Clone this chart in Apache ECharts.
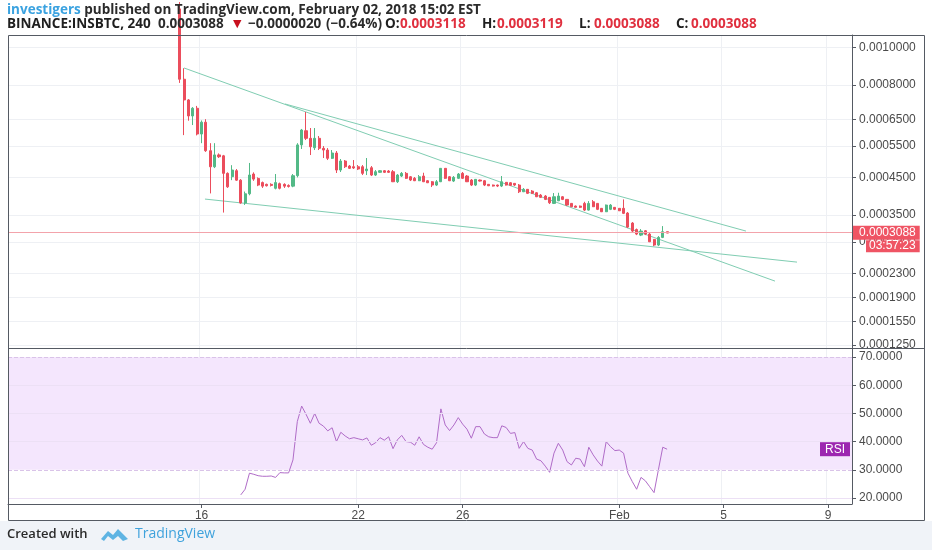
<!DOCTYPE html>
<html><head><meta charset="utf-8">
<script src="https://cdn.jsdelivr.net/npm/echarts@6/dist/echarts.min.js"></script>
<style>html,body{margin:0;padding:0;background:#fff}#c{width:932px;height:550px}</style>
</head><body><div id="c"></div>
<script>
// ---------- data ----------
const axisStart = '2018-01-08 16:00';   // first 4h slot of the time axis
const slotCount = 194;                   // number of 4h slots across the pane
const xTickDates = ['2018-01-16 00:00','2018-01-22 00:00','2018-01-26 00:00','2018-02-01 00:00','2018-02-05 00:00','2018-02-09 00:00'];
const xTickLabels = ['16','22','26','Feb','5','9'];
const priceTicks = [0.001,0.0008,0.00065,0.00055,0.00045,0.00035,0.00029,0.00023,0.00019,0.000155,0.000125];
const priceMin = 0.0001216, priceMax = 0.0010746;
const rsiTicks = [20,30,40,50,60,70];
const rsiMin = 17.87, rsiMax = 73.19;
const rsiBand = [30, 70];

const firstCandle = '2018-01-15 04:00';
// [open, close, low, high]
const candles = [
[0.00125,0.000828,0.00081,0.0013],[0.000828,0.000731,0.000589,0.000884],[0.000731,0.000663,0.000644,0.000735],
[0.000663,0.000695,0.000627,0.0007],[0.000695,0.000593,0.000588,0.000705],[0.000593,0.000638,0.00056,0.000645],
[0.000638,0.000534,0.00053,0.00065],[0.000534,0.000482,0.000405,0.00056],[0.000482,0.00052,0.000478,0.00056],
[0.00052,0.000514,0.00051,0.000525],[0.000517,0.000462,0.000356,0.00052],[0.000462,0.000423,0.00042,0.000465],
[0.000452,0.000472,0.000442,0.000487],[0.00047,0.000442,0.00044,0.000475],[0.000442,0.00038,0.000378,0.000445],
[0.00038,0.000404,0.000375,0.00041],[0.000404,0.000457,0.0004,0.000494],[0.00046,0.000445,0.00044,0.000465],
[0.000447,0.000428,0.000425,0.00045],[0.000435,0.000425,0.00042,0.000438],[0.00043,0.000426,0.000424,0.000432],
[0.00043,0.000427,0.000424,0.000433],[0.000419,0.000435,0.000416,0.00046],[0.000432,0.000419,0.000416,0.000435],
[0.00043,0.000425,0.00042,0.000433],[0.000427,0.000424,0.000421,0.00043],[0.000425,0.000455,0.000422,0.00046],
[0.000455,0.000554,0.00045,0.00056],[0.000554,0.000608,0.00054,0.000612],
[0.0006053,0.0005773,0.0005711,0.0006792],[0.0005773,0.0005475,0.0005196,0.0006155],[0.0005441,0.0005773,0.0005363,0.0006155],
[0.0005773,0.0005421,0.0005363,0.0005856],[0.0005421,0.0005363,0.0005098,0.00055],[0.0005363,0.0005088,0.0005033,0.000543],
[0.0005088,0.0005263,0.0005066,0.0005363],[0.0005263,0.000472,0.000463,0.000533],[0.000472,0.0005001,0.000466,0.0005066],
[0.0005001,0.0004822,0.0004782,0.0005033],[0.0004843,0.0004772,0.0004751,0.0004874],[0.0004822,0.0004782,0.0004751,0.0005033],
[0.0004822,0.0004751,0.000472,0.0004874],[0.0004822,0.000462,0.0004569,0.0004874],[0.0004699,0.0004751,0.0004569,0.0005098],
[0.0004791,0.0004569,0.000454,0.0004843],[0.0004569,0.0004669,0.000454,0.000472],[0.0004651,0.0004699,0.000463,0.000472],
[0.0004699,0.0004651,0.000463,0.000472],[0.000469,0.0004651,0.000463,0.000472],[0.0004669,0.0004374,0.0004365,0.000472],
[0.0004374,0.0004569,0.0004337,0.0004599],[0.000454,0.000462,0.0004511,0.000466],[0.000462,0.0004473,0.0004452,0.000466],
[0.0004519,0.0004423,0.0004394,0.000454],[0.0004473,0.0004403,0.0004394,0.0004511],[0.0004403,0.0004519,0.0004394,0.0004569],
[0.000454,0.0004374,0.0004365,0.0004638],[0.0004403,0.0004345,0.0004337,0.0004423],[0.0004374,0.000428,0.0004224,0.0004394],
[0.000428,0.0004374,0.0004252,0.0004423],[0.0004374,0.0004772,0.0004365,0.0004782],[0.0004772,0.0004473,0.0004452,0.0004782],
[0.0004519,0.0004403,0.0004394,0.000454],[0.0004394,0.0004502,0.0004365,0.000454],[0.0004473,0.0004599,0.0004452,0.000463],
[0.000462,0.0004473,0.0004452,0.000466],[0.000454,0.0004374,0.0004365,0.0004569],[0.0004423,0.000428,0.0004252,0.0004452],
[0.000428,0.0004443,0.0004252,0.0004452],[0.0004423,0.0004394,0.000438,0.0004437],[0.0004403,0.000428,0.0004252,0.0004423],
[0.00043,0.000426,0.0004252,0.0004309],[0.000428,0.0004252,0.0004238,0.0004294],[0.000428,0.0004252,0.0004224,0.0004294],
[0.0004252,0.0004374,0.0004224,0.000454],[0.0004357,0.000428,0.0004266,0.0004365],[0.0004345,0.0004272,0.0004252,0.0004365],
[0.0004328,0.000428,0.0004252,0.0004337],[0.000428,0.0004095,0.000406,0.0004309],[0.0004095,0.0004161,0.0004087,0.0004197],
[0.0004161,0.0004052,0.0004033,0.0004169],[0.0004114,0.0004052,0.0004033,0.0004141],[0.0004068,0.0003961,0.0003953,0.0004087],
[0.0004006,0.0003945,0.0003927,0.0004033],[0.000398,0.0003892,0.0003874,0.0004006],[0.0003945,0.0003805,0.0003772,0.0003953],
[0.0003789,0.0003961,0.0003772,0.000406],[0.0003856,0.000398,0.0003848,0.0004068],[0.0003961,0.0003892,0.0003874,0.000398],
[0.0003892,0.0003746,0.0003721,0.00039],[0.0003789,0.0003704,0.0003696,0.0003797],[0.0003721,0.0003689,0.0003684,0.0003734],
[0.0003721,0.0003689,0.0003671,0.0003734],[0.0003789,0.0003621,0.0003597,0.000383],[0.0003621,0.0003789,0.0003609,0.0003848],
[0.000383,0.0003704,0.0003696,0.0003874],[0.0003789,0.0003639,0.0003621,0.0003797],[0.0003664,0.000358,0.0003573,0.0003671],
[0.000358,0.0003746,0.0003573,0.0003759],[0.0003639,0.0003746,0.0003621,0.0003772],[0.0003689,0.0003639,0.0003621,0.0003696],
[0.0003664,0.0003604,0.0003597,0.0003671],[0.0003664,0.0003541,0.0003524,0.0003892],[0.0003548,0.0003221,0.0003199,0.0003573],
[0.0003312,0.0003132,0.000311,0.0003335],[0.0003165,0.0003066,0.0003044,0.0003188],[0.0003044,0.0003132,0.0003023,0.0003176],
[0.0003139,0.0003066,0.0003044,0.0003154],[0.0003066,0.0002903,0.0002897,0.0003088],[0.0002953,0.0002835,0.0002814,0.0002959],
[0.0002835,0.0002995,0.0002814,0.0003023],[0.0002995,0.0003118,0.000298,0.0003243],[0.0003118,0.0003088,0.0003088,0.0003119]
];

const firstRsi = '2018-01-17 12:00';
const rsi = [21.1,23.1,28.8,28.4,27.9,27.7,27.7,27.8,27.3,29.0,28.9,28.9,33.5,47.1,52.6,49.7,46.5,50.0,46.5,45.5,
43.8,44.9,40.0,43.3,42.0,41.0,41.4,41.0,40.6,41.3,38.7,39.6,41.4,40.5,41.7,37.5,40.6,42.2,40.0,39.8,
38.7,41.7,39.0,38.0,37.3,39.6,51.6,45.9,43.9,45.9,48.5,46.2,44.4,41.2,45.3,45.3,42.7,41.7,41.4,41.4,
45.6,45.0,42.9,43.2,37.6,40.0,37.6,37.0,33.8,33.2,31.3,29.1,35.9,39.4,37.0,32.9,31.7,34.1,33.8,31.1,
38.0,35.3,33.1,31.3,40.0,38.2,36.8,37.0,35.9,28.8,25.8,23.1,27.3,26.1,24.0,21.9,30.0,38.0,37.3];

const lastPrice = 0.0003088;
const countdown = '03:57:23';
// trend lines: [time, price] endpoints
const trendUpper = [['2018-01-19 04:41', 0.0007134], ['2018-02-05 20:31', 0.0003132]];
const trendMid   = [['2018-01-15 07:50', 0.0008854], ['2018-02-06 23:12', 0.0002165]];
const trendLow   = [['2018-01-16 03:07', 0.000390], ['2018-02-07 19:26', 0.0002502]];

// ---------- helpers ----------
const LOG_OFFSET = 0.0001;              // TradingView-style log scale offset
const T = p => Math.log(p + LOG_OFFSET);
const invT = v => Math.exp(v) - LOG_OFFSET;
const HOUR = 3600e3, SLOT = 4 * HOUR;
const pad = n => (n < 10 ? '0' : '') + n;
function parseT(s){ const [a,b]=s.split(' '); const [y,m,d]=a.split('-').map(Number); const [h,mi]=b.split(':').map(Number); return Date.UTC(y,m-1,d,h,mi); }
function fmtT(t){ const d=new Date(t); return d.getUTCFullYear()+'-'+pad(d.getUTCMonth()+1)+'-'+pad(d.getUTCDate())+' '+pad(d.getUTCHours())+':'+pad(d.getUTCMinutes()); }
const t0 = parseT(axisStart);
const slotOf = s => (parseT(s) - t0) / SLOT;
const categories = [];
for (let i = 0; i < slotCount; i++) categories.push(fmtT(t0 + i * SLOT));
const isTick = (idx, val) => xTickDates.indexOf(val) >= 0;

const c0 = slotOf(firstCandle);
const candleData = candles.map((d, i) => [c0 + i, T(d[0]), T(d[1]), T(d[2]), T(d[3])]);
const r0 = slotOf(firstRsi);
const rsiData = rsi.map((v, i) => [r0 + i, v]);
const trend = pts => pts.map(p => [slotOf(p[0]), T(p[1])]);

const UP = '#53b987', DOWN = '#eb4d5c';
const AX = '#555a63', LBL = '#4a4a4a', GRID = '#eef0f4';
const FONT = 'Liberation Sans, Arial, sans-serif';
const HF = 13.5;
const hs = (extra) => Object.assign({fontSize: HF, fontFamily: 'Open Sans', lineHeight: 14, color: '#2b2b2b'}, extra);

const chart = echarts.init(document.getElementById('c'), null, {renderer: 'canvas'});
chart.setOption({
  animation: false,
  backgroundColor: '#ffffff',
  title: {
    left: 7, top: 3, padding: 0,
    text: '{u|investigers}{n| published on TradingView.com, February 02, 2018 15:02 EST}\n' +
          '{sym|BINANCE:INSBTC, 240}{px|0.0003088}{r|▼}{ch|\u22120.0000020}{pc|(\u22120.64%)}' +
          '{k|O:}{v|0.0003118}{k|H:}{v|0.0003119}{k|L:}{v|0.0003088}{k|C:}{v2|0.0003088}',
    textStyle: {
      fontSize: HF, fontFamily: 'Open Sans', lineHeight: 14,
      rich: {
        u: hs({color: '#3aa2e0'}),
        n: hs({}),
        sym: hs({color: '#1f1f1f', fontWeight: 'bold', width: 151}),
        px: hs({width: 75}),
        r: hs({color: '#c8101e', fontSize: 11, fontFamily: 'DejaVu Sans', width: 15}),
        ch: hs({width: 78}),
        pc: hs({width: 59}),
        k: hs({color: '#1f1f1f', fontWeight: 'bold', width: 15}),
        v: hs({color: '#e0303f', width: 82}),
        v2: hs({color: '#e0303f'})
      }
    }
  },
  grid: [
    {left: 8, right: 80, top: 35, height: 313},
    {left: 8, right: 80, top: 348, height: 156}
  ],
  xAxis: [
    {type: 'category', gridIndex: 0, data: categories, boundaryGap: true,
     axisLine: {show: false, onZero: false}, axisTick: {show: false}, axisLabel: {show: false},
     splitLine: {show: true, interval: isTick, lineStyle: {color: GRID, width: 1}}},
    {type: 'category', gridIndex: 1, data: categories, boundaryGap: true,
     axisLine: {show: true, onZero: false, lineStyle: {color: AX, width: 1}},
     axisTick: {show: true, interval: isTick, alignWithLabel: true, length: 4, lineStyle: {color: AX}},
     axisLabel: {show: true, interval: isTick, color: LBL, fontSize: 12, fontFamily: FONT, margin: 6,
       formatter: v => xTickLabels[xTickDates.indexOf(v)]},
     splitLine: {show: true, interval: isTick, lineStyle: {color: GRID, width: 1}}},
    {type: 'value', gridIndex: 0, min: -0.5, max: slotCount - 0.5, show: false, axisLine: {onZero: false}}
  ],
  yAxis: [
    {type: 'value', gridIndex: 0, position: 'right', min: T(priceMin), max: T(priceMax),
     axisLine: {show: true, onZero: false, lineStyle: {color: AX, width: 1}},
     axisTick: {show: true, length: 4, lineStyle: {color: AX}, customValues: priceTicks.map(T)},
     axisLabel: {show: true, color: LBL, fontSize: 12, fontFamily: FONT, margin: 7,
       customValues: priceTicks.map(T), formatter: v => invT(v).toFixed(7)},
     splitLine: {show: true, lineStyle: {color: GRID, width: 1}}},
    {type: 'value', gridIndex: 1, position: 'right', min: rsiMin, max: rsiMax,
     axisLine: {show: true, onZero: false, lineStyle: {color: AX, width: 1}},
     axisTick: {show: true, length: 4, lineStyle: {color: AX}, customValues: rsiTicks},
     axisLabel: {show: true, color: LBL, fontSize: 12, fontFamily: FONT, margin: 7,
       customValues: rsiTicks, formatter: v => v.toFixed(4)},
     splitLine: {show: false}}
  ],
  series: [
    {type: 'line', xAxisIndex: 2, yAxisIndex: 0, data: trend(trendUpper), symbol: 'none', silent: true,
     lineStyle: {color: '#80cdb2', width: 1}, z: 3},
    {type: 'line', xAxisIndex: 2, yAxisIndex: 0, data: trend(trendMid), symbol: 'none', silent: true,
     lineStyle: {color: '#80cdb2', width: 1}, z: 3},
    {type: 'line', xAxisIndex: 2, yAxisIndex: 0, data: trend(trendLow), symbol: 'none', silent: true,
     lineStyle: {color: '#80cdb2', width: 1}, z: 3},
    {type: 'candlestick', xAxisIndex: 0, yAxisIndex: 0, data: candleData,
     encode: {x: 0, y: [1, 2, 3, 4]}, barWidth: 2.6, clip: true, z: 4,
     itemStyle: {color: UP, color0: DOWN, borderColor: UP, borderColor0: DOWN, borderWidth: 1},
     markLine: {
       silent: true, symbol: ['none', 'none'], animation: false,
       data: [
         {yAxis: T(lastPrice), lineStyle: {color: '#f3a3ab', width: 1, type: 'solid'},
          label: {show: true, position: 'end', distance: 1, padding: [13, 0, 0, 0],
            formatter: () => '{p|' + lastPrice.toFixed(7) + '}\n{s|}{t|' + countdown + '}',
            rich: {
              p: {backgroundColor: '#ef5464', color: '#fff', fontSize: 12, fontFamily: FONT, padding: [1, 4, 1, 6], lineHeight: 14},
              s: {width: 13, lineHeight: 13},
              t: {backgroundColor: '#ef5464', color: '#fff', fontSize: 12, fontFamily: FONT, padding: [0, 4, 0, 3], lineHeight: 13}
            }}}
       ]
     }},
    {type: 'line', xAxisIndex: 1, yAxisIndex: 1, data: rsiData, symbol: 'none', silent: true,
     lineStyle: {color: '#b06cc8', width: 1}, z: 4,
     markArea: {silent: true, itemStyle: {color: '#f4e6fd'}, data: [[{yAxis: rsiBand[0]}, {yAxis: rsiBand[1]}]]},
     markLine: {
       silent: true, symbol: ['none', 'none'], animation: false,
       data: [
         ...rsiTicks.filter(v => rsiBand.indexOf(v) < 0).map(v => ({yAxis: v, lineStyle: {color: '#ece0f5', width: 1, type: 'solid'}, label: {show: false}})),
         ...rsiBand.map(v => ({yAxis: v, lineStyle: {color: '#d9c3e8', width: 1, type: 'dashed'}, label: {show: false}})),
         {yAxis: rsi[rsi.length - 1], lineStyle: {color: 'rgba(0,0,0,0)', width: 1},
          label: {show: true, position: 'insideEndTop', distance: [2, -7], formatter: 'RSI',
            backgroundColor: '#9c27b0', color: '#fff', fontSize: 12, fontFamily: FONT, padding: [1, 5, 1, 5]}}
       ]
     }}
  ],
  graphic: [
    {type: 'rect', left: 0, top: 521, shape: {width: 932, height: 29}, style: {fill: '#f0f3f8'}, silent: true, z: 0},
    {type: 'rect', shape: {x: 8.5, y: 35.5, width: 916, height: 485}, style: {fill: 'none', stroke: AX, lineWidth: 1}, silent: true, z: 10},
    {type: 'line', shape: {x1: 8, y1: 348.5, x2: 925, y2: 348.5}, style: {stroke: AX, lineWidth: 1}, silent: true, z: 10},
    {type: 'text', left: 7, top: 528, style: {text: 'Created with', fill: '#2a2a2a', font: '600 13px "Open Sans"'}, silent: true, z: 10},
    {type: 'polygon', shape: {points: [[101,539],[108,531],[113,535],[118,529],[128,539],[123,541],[118,536],[113,540],[108,536],[104,541]]},
     style: {fill: '#5fb4e3'}, silent: true, z: 10},
    {type: 'text', left: 135, top: 527, style: {text: 'TradingView', fill: '#3fa2dc', font: '14px "Open Sans"'}, silent: true, z: 10}
  ]
});
</script></body></html>
